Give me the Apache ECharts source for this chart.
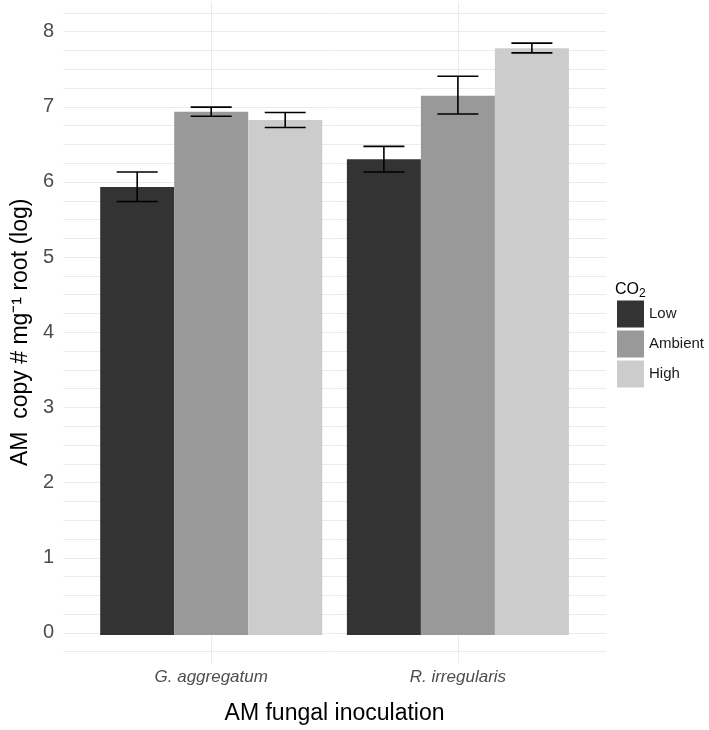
<!DOCTYPE html>
<html>
<head>
<meta charset="utf-8">
<script src="https://cdn.jsdelivr.net/npm/echarts@6/dist/echarts.min.js"></script>
<style>html,body{margin:0;padding:0;background:#fff}#c{width:709px;height:730px}</style>
</head>
<body>
<div id="c"></div>
<script>
// ---- data ----
const categories = ['G. aggregatum', 'R. irregularis'];
const seriesNames = ['Low', 'Ambient', 'High'];
const lowMean = [5.94, 6.31];
const ambientMean = [6.94, 7.15];
const highMean = [6.83, 7.78];
const lowErrLo = [5.75, 6.14];
const lowErrHi = [6.14, 6.48];
const ambientErrLo = [6.88, 6.91];
const ambientErrHi = [7.00, 7.41];
const highErrLo = [6.73, 7.72];
const highErrHi = [6.93, 7.85];
const yLabelTicks = [0, 1, 2, 3, 4, 5, 6, 7, 8];
const yGridTicks = [-0.25, 0, 0.25, 0.5, 0.75, 1, 1.25, 1.5, 1.75, 2, 2.25, 2.5, 2.75, 3, 3.25, 3.5, 3.75, 4, 4.25, 4.5, 4.75, 5, 5.25, 5.5, 5.75, 6, 6.25, 6.5, 6.75, 7, 7.25, 7.5, 7.75, 8, 8.25];
const xTicks = [1, 2];

const colors = ['#333333', '#999999', '#cccccc'];
const means = [lowMean, ambientMean, highMean];
const errs = [[lowErrLo, lowErrHi], [ambientErrLo, ambientErrHi], [highErrLo, highErrHi]];
const FONT = 'Liberation Sans, Arial, sans-serif';

const chart = echarts.init(document.getElementById('c'), null, {renderer: 'canvas'});

const gridTop = 1.6, gridBottom = 64.8;
const yMin = -0.4, yMax = 8.4;

const series = [];
seriesNames.forEach((n, i) => {
  series.push({
    name: n, type: 'bar', xAxisIndex: 1, yAxisIndex: 1,
    data: means[i], barGap: '0%', barCategoryGap: '10%',
    itemStyle: {color: colors[i]}, z: 2
  });
});
seriesNames.forEach((n, i) => {
  series.push({
    name: 'err_' + n, type: 'custom', xAxisIndex: 1, yAxisIndex: 1, z: 5,
    data: categories.map((c, j) => [j, errs[i][0][j], errs[i][1][j]]),
    renderItem: function (params, api) {
      const x = api.value(0);
      const lo = api.coord([x, api.value(1)]);
      const hi = api.coord([x, api.value(2)]);
      const band = api.size([1, 0])[0];
      const bw = band * 0.9 / 3;
      const cx = lo[0] + (i - 1) * bw;
      const hw = bw * 0.277;
      const st = {stroke: '#000', lineWidth: 1.6};
      return {
        type: 'group',
        children: [
          {type: 'line', shape: {x1: cx, y1: lo[1], x2: cx, y2: hi[1]}, style: st},
          {type: 'line', shape: {x1: cx - hw, y1: lo[1], x2: cx + hw, y2: lo[1]}, style: st},
          {type: 'line', shape: {x1: cx - hw, y1: hi[1], x2: cx + hw, y2: hi[1]}, style: st}
        ]
      };
    }
  });
});

chart.setOption({
  animation: false,
  backgroundColor: '#ffffff',
  textStyle: {fontFamily: FONT},
  title: {
    text: 'CO{sub|2}', left: 615, top: 279, padding: 0,
    textStyle: {fontFamily: FONT, fontSize: 16, fontWeight: 'normal', color: '#000',
      rich: {sub: {fontFamily: FONT, fontSize: 12, padding: [9, 0, 0, 0], color: '#000'}}}
  },
  legend: {
    data: seriesNames, orient: 'vertical', left: 617, top: 300.5, padding: 0,
    icon: 'rect', itemWidth: 27, itemHeight: 27, itemGap: 3,
    textStyle: {fontFamily: FONT, fontSize: 15, color: '#1a1a1a'},
    selectedMode: false
  },
  grid: [
    {left: 63.2, right: 103.1, top: gridTop, bottom: gridBottom, containLabel: false},
    {left: 87.85, right: 127.75, top: gridTop, bottom: gridBottom, containLabel: false}
  ],
  xAxis: [
    {
      type: 'value', gridIndex: 0, min: 0.4, max: 2.6,
      axisLine: {show: false},
      axisTick: {show: false, customValues: xTicks},
      axisLabel: {customValues: xTicks, formatter: v => categories[Math.round(v) - 1] || '',
        fontStyle: 'italic', fontSize: 17, color: '#4d4d4d', fontFamily: FONT, margin: 6},
      splitLine: {show: true, lineStyle: {color: '#ebebeb', width: 1}},
      name: 'AM fungal inoculation', nameLocation: 'middle', nameGap: 39,
      nameTextStyle: {fontSize: 23, color: '#000', fontFamily: FONT}
    },
    {type: 'category', gridIndex: 1, data: categories, show: false, boundaryGap: true}
  ],
  yAxis: [
    {
      type: 'value', gridIndex: 0, min: yMin, max: yMax,
      axisLine: {show: false},
      axisTick: {show: false, customValues: yGridTicks},
      axisLabel: {customValues: yLabelTicks, fontSize: 20, color: '#4d4d4d', fontFamily: FONT, margin: 9},
      splitLine: {show: true, lineStyle: {color: '#ebebeb', width: 1}},
      name: 'AM  copy # mg\u207B\u00B9 root (log)', nameLocation: 'middle', nameGap: 29,
      nameTextStyle: {fontSize: 23, color: '#000', fontFamily: FONT}
    },
    {type: 'value', gridIndex: 1, min: yMin, max: yMax, show: false, splitLine: {show: false}}
  ],
  series: series
});
</script>
</body>
</html>
